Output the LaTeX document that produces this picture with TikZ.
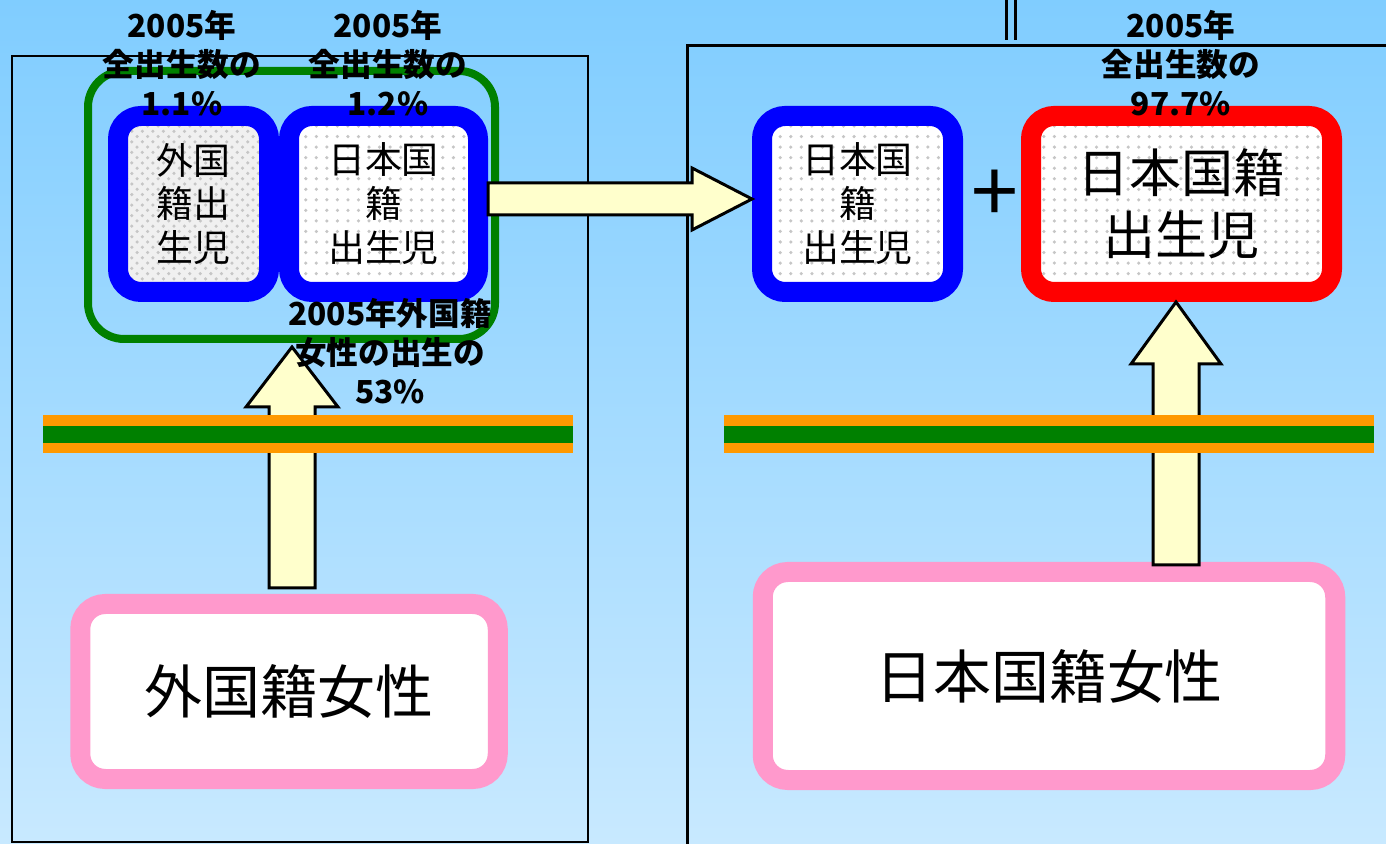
\documentclass[tikz,border=0pt]{standalone}
\usepackage{fontspec}
\newfontfamily\jpfont{Noto Sans CJK JP}
\usetikzlibrary{calc,patterns}
\definecolor{bgtop}{RGB}{128,205,255}
\definecolor{bgbottom}{RGB}{200,233,255}
\definecolor{bandorange}{RGB}{255,153,0}
\definecolor{bandgreen}{RGB}{0,128,0}
\definecolor{arrowyellow}{RGB}{255,255,204}
\definecolor{boxpink}{RGB}{255,153,204}
\def\fatarrow[#1](#2)(#3)(#4:#5:#6){%
	\coordinate (fa-base) at ($(#3)!#6!(#2)$);
	\draw[#1] ($(#2)!#4!90:(#3)$) -- ($(fa-base)!#4!90:(#3)$) -- ($(fa-base)!#5!90:(#3)$) -- (#3)
		-- ($(fa-base)!#5!-90:(#3)$) -- ($(fa-base)!#4!-90:(#3)$) -- ($(#2)!#4!-90:(#3)$) -- cycle;}
\tikzset{
	dotfill/.style={preaction={fill=white}, preaction={pattern=dots, pattern color=gray!45}},
	hatchfill/.style={preaction={fill=gray!12}, preaction={pattern=crosshatch dots, pattern color=gray!45}},
	birthbox/.style={draw, line width=0.2cm, rounded corners=0.23cm, minimum height=1.76cm, inner sep=0pt, align=center, font=\jpfont\fontsize{10.5}{12.5}\selectfont},
	womanbox/.style={draw=boxpink, fill=white, line width=0.2cm, rounded corners=0.25cm, inner sep=0pt, font=\jpfont\fontsize{16.5}{18}\selectfont},
	sharelabel/.style={align=center, inner sep=0pt, font=\jpfont\bfseries\fontsize{9}{11}\selectfont},
	fatarrowline/.style={draw=black, fill=arrowyellow, line width=0.03cm, line join=miter}
}
\begin{document}
\begin{tikzpicture}
			%%%%% START %%%%%
			\useasboundingbox (0,0) rectangle (13.86,8.43);
			\shade[top color=bgtop, bottom color=bgbottom] (0,0) rectangle (13.86,8.43);
			
			\draw[line width=0.02cm] (0.12,0.015) rectangle (5.88,7.87);
			\draw[line width=0.03cm] (13.95,7.97) -- (6.87,7.97) -- (6.87,-0.1);
			\draw[line width=0.03cm] (10.065,8.45) -- (10.065,8.03);
			\draw[line width=0.03cm] (10.15,8.45) -- (10.15,8.03);
			
			\node[draw=bandgreen, line width=0.08cm, rounded corners=0.36cm, minimum width=4.07cm, minimum height=2.68cm] (group) at (2.915,6.38) {};
			
			\node[birthbox, draw=blue, hatchfill, minimum width=1.51cm] (birthF) at (1.935,6.39) {外国\\籍出\\生児};
			\node[birthbox, draw=blue, dotfill, minimum width=1.89cm] (birthJ) at (3.835,6.39) {日本国\\籍\\出生児};
			\node[birthbox, draw=blue, dotfill, minimum width=1.91cm] (birthJ2) at (8.575,6.39) {日本国\\籍\\出生児};
			\node[birthbox, draw=red, dotfill, minimum width=3.01cm, font=\jpfont\fontsize{14.8}{17.6}\selectfont] (birthMain) at (11.815,6.39) {日本国籍\\出生児};
			
			\node[font=\jpfont\fontsize{24}{24}\selectfont, inner sep=0pt] (plus) at (9.95,6.47) {+};
			
			\node[womanbox, minimum width=4.175cm, minimum height=1.75cm] (womanF) at (2.89,1.515) {外国籍女性};
			\node[womanbox, minimum width=5.725cm, minimum height=2.08cm] (womanJ) at (10.49,1.67) {日本国籍女性};
			
			% arrows
			\coordinate (moveS) at ($(birthJ.east)+(0,0.05)$);
			\coordinate (moveT) at ($(birthJ2.west)+(0,0.05)$);
			\fatarrow[fatarrowline](moveS)(moveT)(0.16cm:0.31cm:0.6cm)
			
			\coordinate (upF) at ($(womanF.north)+(0.03,0.06)$);
			\coordinate (upFtip) at ($(group.south)+(0.005,-0.04)$);
			\fatarrow[fatarrowline](upF)(upFtip)(0.23cm:0.46cm:0.6cm)
			
			\coordinate (upJtip) at ($(birthMain.south)+(-0.055,0)$);
			\coordinate (upJ) at ($(womanJ.north -| upJtip)+(0,-0.03)$);
			\fatarrow[fatarrowline](upJ)(upJtip)(0.23cm:0.45cm:0.62cm)
			
			% bands
			\foreach \xa/\xb in {0.43/5.73, 7.24/13.74}{
				\fill[bandorange] (\xa,3.90) rectangle (\xb,4.28);
				\fill[bandgreen] (\xa,4.00) rectangle (\xb,4.17);
			}
			
			\node[sharelabel] (shareF) at (1.82,7.80) {2005年\\全出生数の\\1.1\%};
			\node[sharelabel] (shareJ) at (3.88,7.80) {2005年\\全出生数の\\1.2\%};
			\node[sharelabel] (shareMain) at (11.81,7.80) {2005年\\全出生数の\\97.7\%};
			\node[sharelabel] (rateF) at (3.90,4.92) {2005年外国籍\\女性の出生の\\53\%};
			%%%%% END %%%%%
\end{tikzpicture}
\end{document}
